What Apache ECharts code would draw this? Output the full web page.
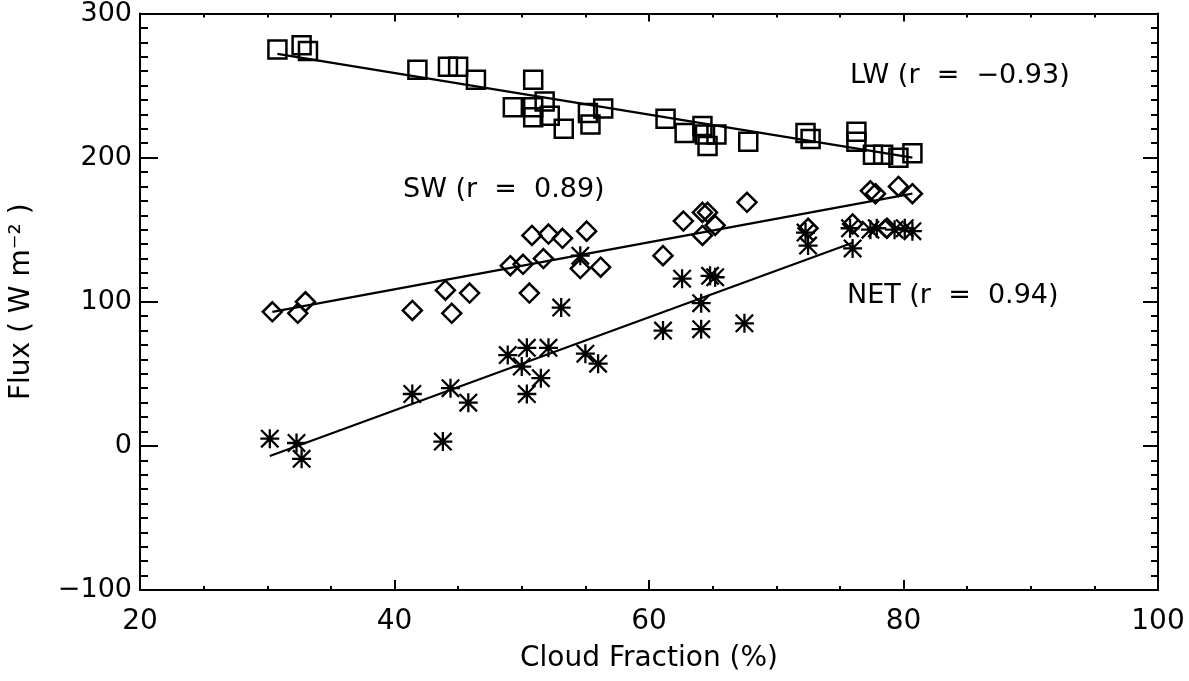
<!DOCTYPE html>
<html>
<head>
<meta charset="utf-8">
<script src="https://cdn.jsdelivr.net/npm/echarts@6/dist/echarts.min.js"></script>
<style>
html, body { margin: 0; padding: 0; background: #fff; }
#chart { width: 1189px; height: 681px; }
</style>
</head>
<body>
<div id="chart"></div>
<script>
// LW (squares)
var lwX = [30.8, 32.7, 33.2, 41.8, 44.2, 45.0, 46.4, 50.9, 49.3, 50.9, 51.8, 52.2, 50.9, 53.3, 55.2, 55.4, 56.4, 61.3, 62.8, 64.2, 64.4, 65.3, 64.6, 67.8, 72.3, 72.7, 76.3, 76.3, 77.6, 78.4, 79.6, 80.7];
var lwY = [275, 278, 274, 261, 263, 263, 254, 254, 235, 235, 239, 229, 228, 220, 231, 223, 234, 227, 217, 222, 216, 216, 208, 211, 217, 213, 218, 211, 202, 202, 200, 203];
// SW (diamonds)
var swX = [30.4, 32.4, 33.0, 41.4, 44.0, 44.5, 45.9, 49.1, 50.1, 50.6, 51.7, 50.8, 52.1, 53.2, 55.1, 54.6, 56.2, 61.1, 62.7, 64.2, 64.6, 64.2, 65.2, 67.7, 72.5, 76.0, 77.4, 77.8, 78.7, 79.6, 80.7];
var swY = [93, 92, 100, 94, 108, 92, 106, 125, 126, 106, 130, 146, 147, 144, 149, 123, 124, 132, 156, 162, 162, 146, 153, 169, 151, 154, 177, 175, 151, 180, 175];
// NET (asterisks)
var netX = [30.2, 32.3, 32.7, 41.4, 44.4, 43.8, 45.8, 48.9, 50.0, 50.4, 52.1, 50.4, 51.5, 55.0, 56.0, 53.1, 54.6, 61.1, 62.6, 64.8, 65.2, 64.1, 64.1, 67.5, 72.5, 72.3, 76.0, 75.8, 77.4, 77.9, 79.3, 80.1, 80.7];
var netY = [5, 2, -9, 36, 40, 3, 30, 63, 55, 68, 68, 36, 47, 64, 57, 96, 132, 80, 116, 118, 117, 99, 81, 85, 139, 148, 137, 151, 150, 151, 150, 151, 149];

// regression line end points
var lwFitX = [30.8, 80.7];
var lwFitY = [272, 200];
var swFitX = [30.4, 80.7];
var swFitY = [93, 175];
var netFitX = [30.2, 76.0];
var netFitY = [-7, 141];

var xTicks = [20, 40, 60, 80, 100];
var yTicks = [-100, 0, 100, 200, 300];

function pairs(xs, ys) {
    var out = [];
    for (var i = 0; i < xs.length; i++) {
        out.push([xs[i], ys[i]]);
    }
    return out;
}

var starPath = 'path://M8.8 0h2.4v20h-2.4z M0 8.8h20v2.4h-20z M1.7 0L20 18.3L18.3 20L0 1.7z M18.3 0L20 1.7L1.7 20L0 18.3z';
var fontName = 'DejaVu Sans';
var tickStyle = { color: '#000', width: 2 };

var chart = echarts.init(document.getElementById('chart'));

var hiddenLabel = { show: false };

var option = {
    backgroundColor: '#fff',
    animation: false,
    grid: { left: 140, right: 31, top: 12, bottom: 91 },
    xAxis: [
        {
            type: 'value', min: xTicks[0], max: xTicks[xTicks.length - 1], interval: 20,
            position: 'bottom',
            name: 'Cloud Fraction (%)', nameLocation: 'middle', nameGap: 55,
            nameTextStyle: { fontFamily: fontName, fontSize: 28, color: '#000' },
            axisLine: { onZero: false, lineStyle: tickStyle },
            axisTick: { inside: true, length: 10, lineStyle: tickStyle },
            minorTick: { show: true, splitNumber: 4, length: 4, lineStyle: tickStyle },
            axisLabel: { fontFamily: fontName, fontSize: 28, color: '#000', margin: 18 },
            splitLine: { show: false }
        },
        {
            type: 'value', min: xTicks[0], max: xTicks[xTicks.length - 1], interval: 20,
            position: 'top',
            axisLine: { onZero: false, lineStyle: tickStyle },
            axisTick: { inside: true, length: 8, lineStyle: tickStyle },
            minorTick: { show: true, splitNumber: 4, length: 4, lineStyle: tickStyle },
            axisLabel: hiddenLabel,
            splitLine: { show: false }
        }
    ],
    yAxis: [
        {
            type: 'value', min: yTicks[0], max: yTicks[yTicks.length - 1], interval: 100,
            position: 'left',
            name: 'Flux ( W m\u207B\u00B2 )', nameLocation: 'middle', nameGap: 104,
            nameTextStyle: { fontFamily: fontName, fontSize: 28, color: '#000' },
            axisLine: { onZero: false, lineStyle: tickStyle },
            axisTick: { inside: true, length: 18, lineStyle: tickStyle },
            minorTick: { show: true, splitNumber: 10, length: 8, lineStyle: tickStyle },
            axisLabel: { fontFamily: fontName, fontSize: 27, color: '#000', margin: 8,
                formatter: function(v) { return v < 0 ? '\u2212' + Math.abs(v) : '' + v; } },
            splitLine: { show: false }
        },
        {
            type: 'value', min: yTicks[0], max: yTicks[yTicks.length - 1], interval: 100,
            position: 'right',
            axisLine: { show: true, onZero: false, lineStyle: tickStyle },
            axisTick: { show: true, inside: true, length: 15, lineStyle: tickStyle },
            minorTick: { show: true, splitNumber: 10, length: 7, lineStyle: tickStyle },
            axisLabel: hiddenLabel,
            splitLine: { show: false }
        }
    ],
    graphic: [
        { type: 'text', left: 850, top: 62, style: { text: 'LW (r  =  \u22120.93)', font: '27px "DejaVu Sans"', fill: '#000' } },
        { type: 'text', left: 403, top: 176, style: { text: 'SW (r  =  0.89)', font: '27px "DejaVu Sans"', fill: '#000' } },
        { type: 'text', left: 847, top: 282, style: { text: 'NET (r  =  0.94)', font: '27px "DejaVu Sans"', fill: '#000' } }
    ],
    series: [
        {
            name: 'LW', type: 'scatter', silent: true,
            symbol: 'rect', symbolSize: 18,
            itemStyle: { color: 'rgba(0,0,0,0)', borderColor: '#000', borderWidth: 2.5, opacity: 1 },
            data: pairs(lwX, lwY)
        },
        {
            name: 'SW', type: 'scatter', silent: true,
            symbol: 'diamond', symbolSize: 19,
            itemStyle: { color: 'rgba(0,0,0,0)', borderColor: '#000', borderWidth: 2.5, opacity: 1 },
            data: pairs(swX, swY)
        },
        {
            name: 'NET', type: 'scatter', silent: true,
            symbol: starPath, symbolSize: 19,
            itemStyle: { color: '#000', opacity: 1 },
            data: pairs(netX, netY)
        },
        { type: 'line', silent: true, showSymbol: false, lineStyle: { color: '#000', width: 2.2 }, data: pairs(lwFitX, lwFitY) },
        { type: 'line', silent: true, showSymbol: false, lineStyle: { color: '#000', width: 2.2 }, data: pairs(swFitX, swFitY) },
        { type: 'line', silent: true, showSymbol: false, lineStyle: { color: '#000', width: 2.2 }, data: pairs(netFitX, netFitY) }
    ]
};

chart.setOption(option);
</script>
</body>
</html>
